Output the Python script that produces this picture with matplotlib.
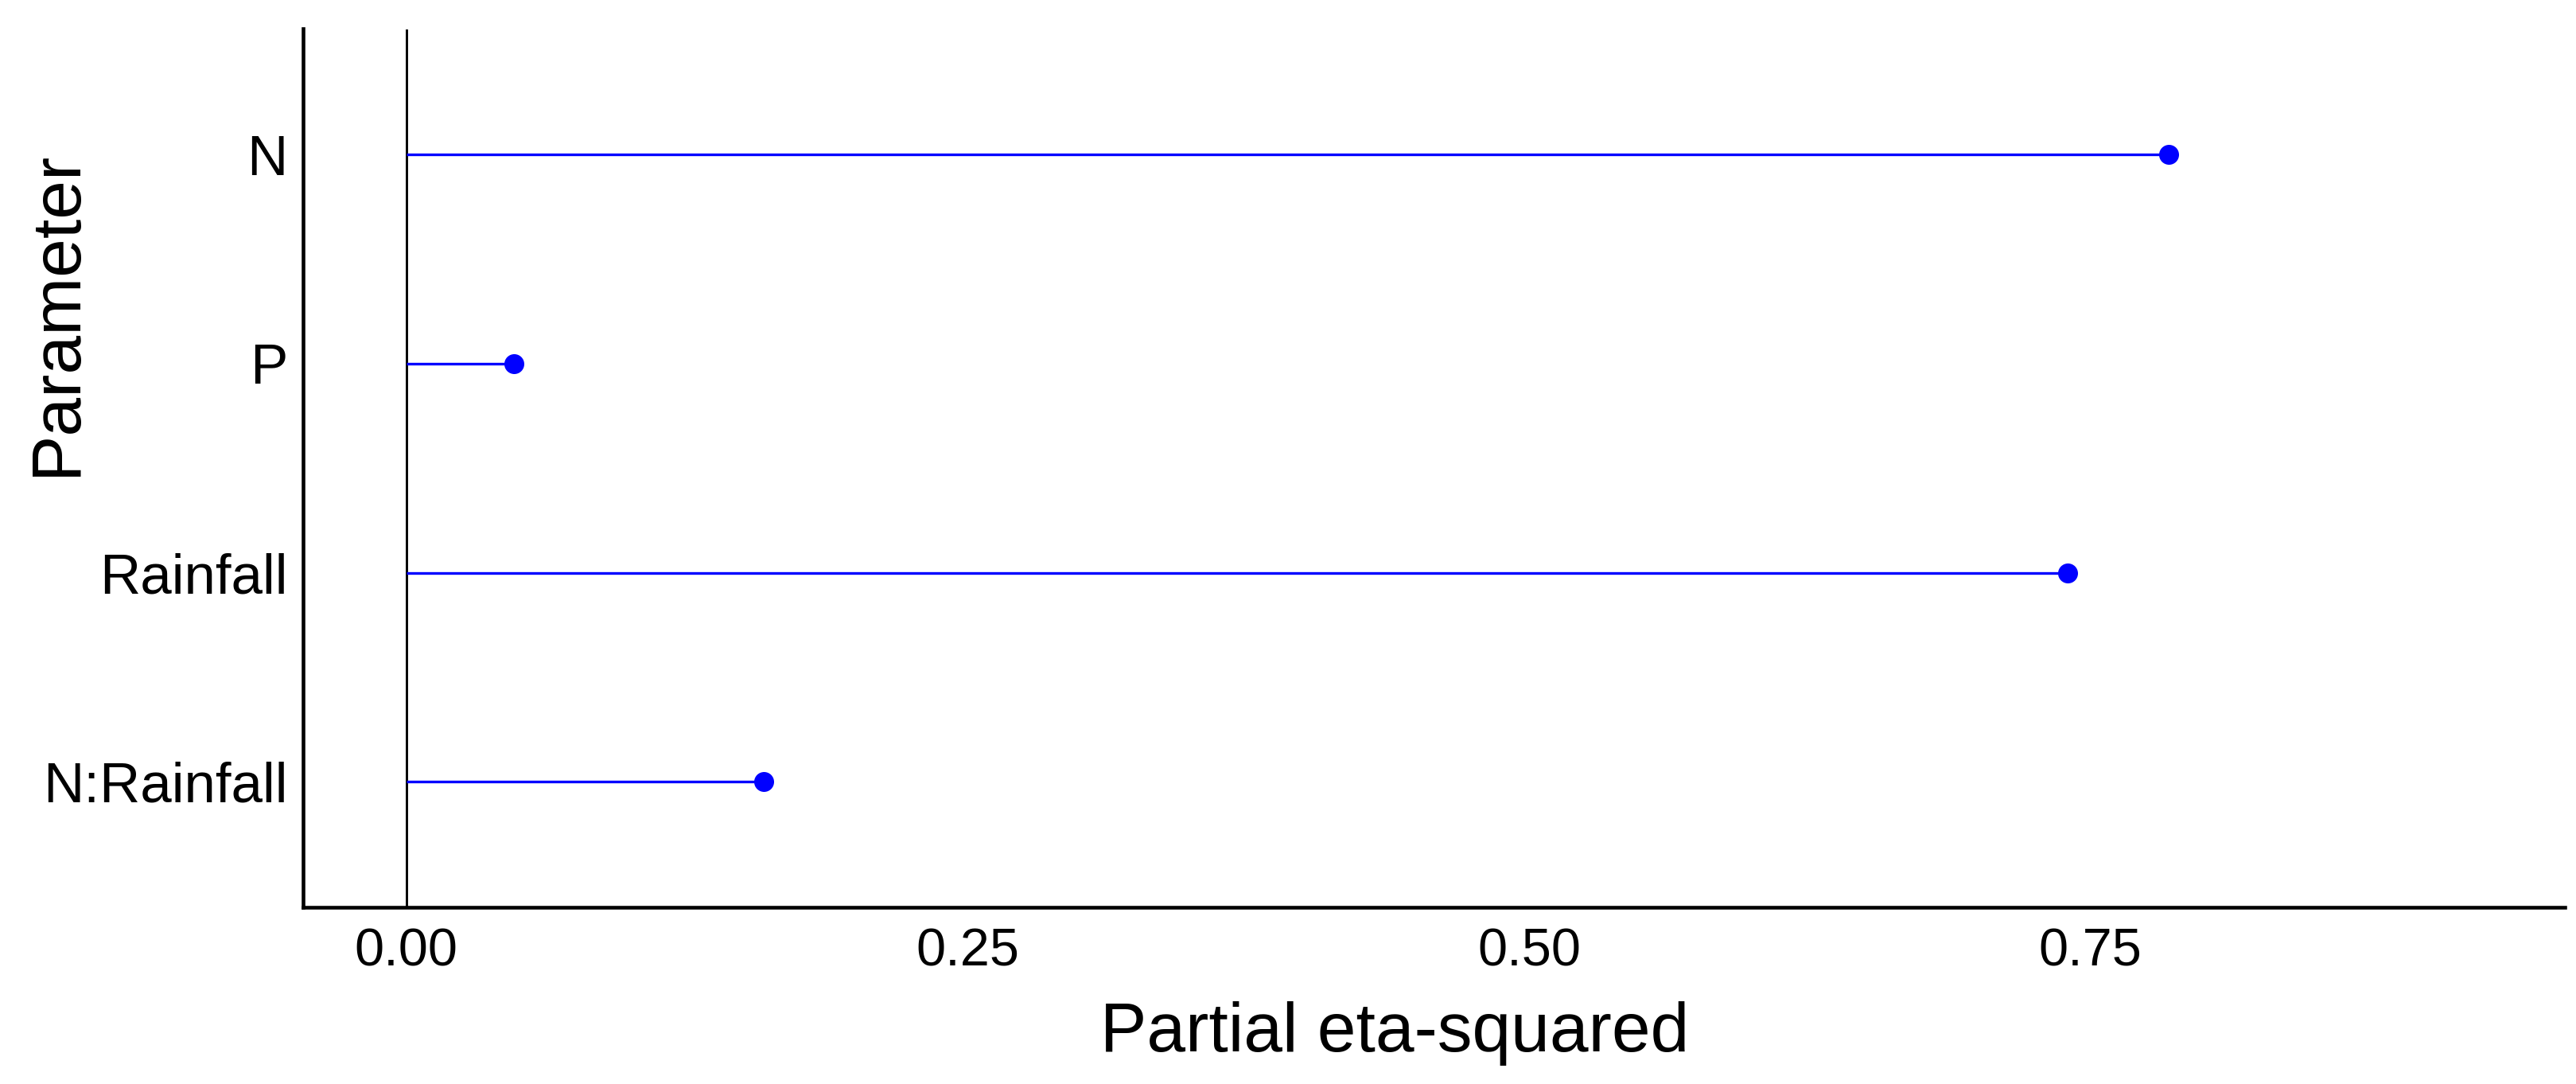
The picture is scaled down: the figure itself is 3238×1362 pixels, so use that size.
import matplotlib
matplotlib.use("Agg")
import matplotlib.pyplot as plt

plt.rcParams['font.family'] = ['Liberation Sans', 'DejaVu Sans']

parameters = ["N", "P", "Rainfall", "N:Rainfall"]
eta_sq = [0.785, 0.048, 0.740, 0.159]
x_ticks = [0.00, 0.25, 0.50, 0.75]
x_tick_labels = ["0.00", "0.25", "0.50", "0.75"]

fig = plt.figure(figsize=(3238 / 300, 1362 / 300), dpi=300)
ax = fig.add_axes([381 / 3238, 1 - 1140 / 1362, (3224 - 381) / 3238, (1140 - 36.5) / 1362])

ypos = list(range(len(parameters)))
ax.axvline(0, color="black", lw=0.7, zorder=1)
ax.hlines(ypos, 0, eta_sq, color="#0000FF", lw=0.8, zorder=2)
ax.plot(eta_sq, ypos, "o", color="#0000FF", markersize=5, zorder=3)

ax.set_ylim(len(parameters) - 0.4, -0.6)
ax.set_xlim(-0.046, 0.9614)
ax.set_yticks(ypos)
ax.set_yticklabels(parameters)
ax.set_xticks(x_ticks)
ax.set_xticklabels(x_tick_labels)

for s in ["top", "right"]:
    ax.spines[s].set_visible(False)
for s in ["left", "bottom"]:
    ax.spines[s].set_linewidth(1.1)
    ax.spines[s].set_color("black")

ax.tick_params(axis="x", length=0, pad=6.2, labelsize=16, colors="black")
ax.tick_params(axis="y", length=0, pad=4.6, labelsize=17, colors="black")

ax.set_xlabel("Partial eta-squared", fontsize=21)
ax.set_ylabel("Parameter", fontsize=21)
ax.xaxis.set_label_coords(0.4826, -0.144)
ax.xaxis.label.set_va("center")
ax.yaxis.set_label_coords(-0.1087, 0.677)
ax.yaxis.label.set_va("center")

fig.savefig("out.png", dpi=300, facecolor="white")
